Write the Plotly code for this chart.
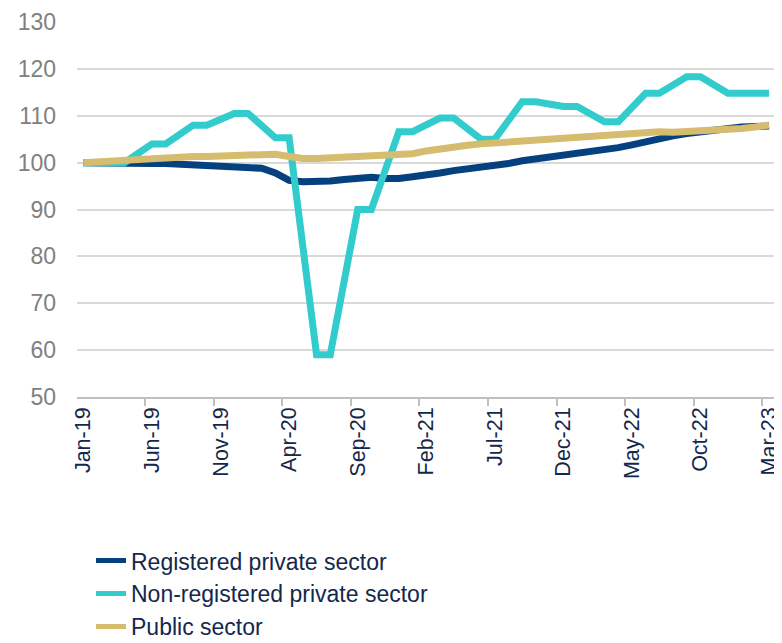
import plotly.graph_objects as go

months = ["Jan", "Feb", "Mar", "Apr", "May", "Jun", "Jul", "Aug", "Sep", "Oct", "Nov", "Dec"]
categories = [f"{months[i % 12]}-{19 + i // 12}" for i in range(51)]  # Jan-19 .. Mar-23
tick_labels = ["Jan-19", "Jun-19", "Nov-19", "Apr-20", "Sep-20", "Feb-21",
               "Jul-21", "Dec-21", "May-22", "Oct-22", "Mar-23"]

registered = [100.0, 99.9, 99.8, 99.8, 99.8, 99.8, 99.8, 99.7, 99.6, 99.4,
              99.3, 99.2, 99.0, 98.8, 97.8, 96.2, 95.9, 95.9, 96.1, 96.4,
              96.7, 96.9, 96.6, 96.6, 97.0, 97.3, 97.8, 98.3, 98.6, 98.9,
              99.2, 99.8, 100.4, 100.8, 101.0, 101.3, 101.7, 102.2, 102.7, 103.2,
              103.8, 104.5, 105.2, 105.7, 106.2, 106.6, 107.1, 107.4, 107.6, 107.7,
              107.8]

non_registered = [100.0, 100.0, 100.0, 100.0, 102.0, 104.0, 104.0, 106.0, 108.0, 108.0,
                  109.3, 110.5, 110.5, 108.0, 105.3, 105.3, 82.0, 59.0, 59.0, 74.5,
                  90.0, 90.0, 98.3, 106.6, 106.6, 108.0, 109.5, 109.5, 107.2, 105.0,
                  105.0, 109.0, 113.0, 113.0, 112.5, 112.0, 112.0, 110.3, 108.7, 108.7,
                  111.8, 114.8, 114.8, 116.5, 118.3, 118.3, 116.5, 114.8, 114.8, 114.8,
                  114.8]

public = [100.0, 100.2, 100.4, 100.6, 100.8, 100.9, 101.0, 101.1, 101.3, 101.3,
          101.4, 101.4, 101.3, 101.6, 101.8, 101.3, 100.9, 100.9, 101.0, 101.1,
          101.2, 101.3, 101.6, 101.8, 101.9, 102.5, 103.0, 103.4, 103.7, 104.0,
          104.2, 104.5, 104.8, 105.0, 105.2, 105.3, 105.4, 105.5, 105.7, 105.9,
          106.1, 106.4, 106.6, 106.5, 106.6, 106.8, 107.0, 107.1, 107.3, 107.6,
          108.0]

series_names = ["Registered private sector", "Non-registered private sector", "Public sector"]
colors = ["#05417F", "#33CCCC", "#D6BC6E"]

fig = go.Figure()
for name, vals, col in zip(series_names, [registered, non_registered, public], colors):
    fig.add_trace(go.Scatter(x=categories, y=vals, name=name, mode="lines",
                             line=dict(color=col, width=7, shape="linear"),
                             hoverinfo="skip"))

# page body has an 8px default margin, so the figure is sized/offset to fit the 782x643 window
fig.update_layout(
    width=774, height=635,
    margin=dict(l=69, r=5, t=14, b=246, autoexpand=False),
    paper_bgcolor="white", plot_bgcolor="white",
    font=dict(family="Liberation Sans, Arial, sans-serif", color="#14284B"),
    showlegend=True,
    legend=dict(x=0.02, y=-0.379, xanchor="left", yanchor="top",
                font=dict(size=23, color="#14284B"), tracegroupgap=0,
                itemsizing="constant", bgcolor="rgba(0,0,0,0)"),
)
fig.update_xaxes(
    type="category", range=[-0.47, 50.58], automargin=False,
    tickmode="array", tickvals=tick_labels, ticktext=tick_labels,
    tickson="boundaries",
    tickangle=-90, tickfont=dict(size=21.5, color="#14284B"),
    showgrid=False, showline=True, linecolor="#BFBFBF", linewidth=1.5,
    ticks="outside", ticklen=7, tickcolor="#BFBFBF", tickwidth=1.5,
)
fig.update_yaxes(
    range=[50, 130], tickvals=[50, 60, 70, 80, 90, 100, 110, 120, 130],
    automargin=False,
    tickfont=dict(size=23, color="#808080"),
    showgrid=True, gridcolor="#D9D9D9", gridwidth=1.5,
    zeroline=False, showline=False, ticklabelstandoff=20,
)

fig.write_html("out.html")
